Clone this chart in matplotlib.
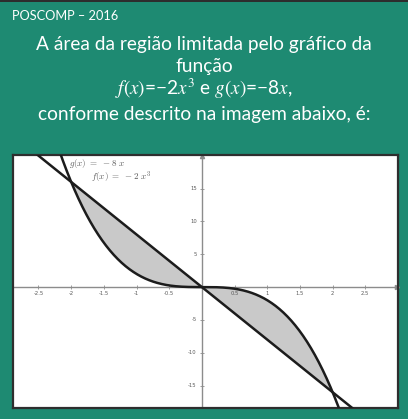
import numpy as np
import matplotlib
matplotlib.use("Agg")
import matplotlib.pyplot as plt
from matplotlib.patches import Rectangle

# function data: f(x) = a*x^3, g(x) = b*x
f_coef = -2.0
g_coef = -8.0
cross_points = [-2.0, 0.0, 2.0]

x_ticks = [-2.5, -2, -1.5, -1, -0.5, 0.5, 1, 1.5, 2, 2.5]
x_tick_labels = ["-2.5", "-2", "-1.5", "-1", "-0.5", "0.5", "1", "1.5", "2", "2.5"]
y_ticks = [15, 10, 5, -5, -10, -15]
y_tick_labels = ["15", "10", "5", "-5", "-10", "-15"]

header = "POSCOMP – 2016"
title_lines = ["A área da região limitada pelo gráfico da",
               "função",
               r"$f(x)$=−2$x^3$ e $g(x)$=−8$x$,",
               "conforme descrito na imagem abaixo, é:"]

bg_green = "#1e8a72"
curve_color = "#1c1c1c"
fill_color = "#c9c9c9"
axis_gray = "#8c8c8c"
label_gray = "#5a5a5a"

W, H = 408, 419
fig = plt.figure(figsize=(W / 100, H / 100), dpi=100)
fig.patch.set_facecolor(bg_green)

# dark strip at the very top
fig.patches.append(Rectangle((0, 1 - 2 / H), 1, 2 / H, transform=fig.transFigure,
                             facecolor="#2d2d2d", edgecolor="none"))

fig.text(12 / W, 1 - 20 / H, header, color="white", fontsize=9.2,
         family="Lato", va="baseline", ha="left")
baselines = [50, 72, 95, 120]
for line, yb in zip(title_lines, baselines):
    fig.text(0.5, 1 - yb / H, line, color="white", fontsize=13.8, family="Lato",
             ha="center", va="baseline", math_fontfamily="stix")

left, right, top, bottom = 13, 398, 155, 408
ax = fig.add_axes([left / W, 1 - bottom / H, (right - left) / W, (bottom - top) / H])
ax.set_facecolor("white")
ax.set_xlim(-2.89, 3.0)
ax.set_ylim(-18.4, 20.1)
ax.set_xticks([])
ax.set_yticks([])
for sp in ax.spines.values():
    sp.set_color("#2e2e2e")
    sp.set_linewidth(1.6)

# coordinate axes
ax.axhline(0, color=axis_gray, lw=1.0, zorder=1)
ax.axvline(0, color=axis_gray, lw=1.0, zorder=1)
ax.plot([2.99], [0], marker=">", ms=3, color=axis_gray, clip_on=False, zorder=1)
ax.plot([0], [20.0], marker="^", ms=3, color=axis_gray, clip_on=False, zorder=1)
ax.plot(x_ticks, [0] * len(x_ticks), ls="none", marker="|", ms=2.5, color=axis_gray, mew=0.6)
ax.plot([0] * len(y_ticks), y_ticks, ls="none", marker="_", ms=2.5, color=axis_gray, mew=0.6)
for xv, lab in zip(x_ticks, x_tick_labels):
    ax.text(xv, -0.9, lab, fontsize=3.8, color=label_gray, ha="center", va="center")
for yv, lab in zip(y_ticks, y_tick_labels):
    ax.text(-0.08, yv, lab, fontsize=3.8, color=label_gray, ha="right", va="center")

xs = np.linspace(-3, 3, 600)
fx = f_coef * xs ** 3
gx = g_coef * xs
xf = np.linspace(cross_points[0], cross_points[-1], 400)
ax.fill_between(xf, f_coef * xf ** 3, g_coef * xf, color=fill_color, lw=0, zorder=2)
ax.plot(xs, fx, color=curve_color, lw=1.8, zorder=3)
ax.plot(xs, gx, color=curve_color, lw=1.8, zorder=3)

ax.text(-2.04, 18.5, r"$g(x)\ =\ -8\ x$", fontsize=6.5, color=label_gray,
        math_fontfamily="cm", va="baseline")
ax.text(-1.69, 16.2, r"$f(x)\ =\ -2\ x^3$", fontsize=6.5, color=label_gray,
        math_fontfamily="cm", va="baseline")

fig.savefig("out.png", dpi=100, facecolor=fig.get_facecolor())
